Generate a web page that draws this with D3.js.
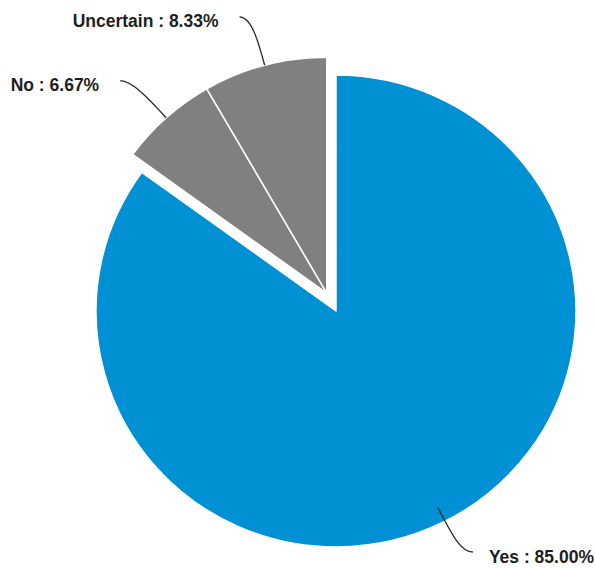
<!DOCTYPE html>
<html>
<head>
<meta charset="utf-8">
<script src="https://cdn.jsdelivr.net/npm/d3@7"></script>
<style>
  html, body { margin: 0; padding: 0; background: #fff; }
  svg { display: block; }
</style>
</head>
<body>
<svg id="chart" width="595" height="568"></svg>
<script>
// Survey answers (percent of respondents)
const categories = ["Yes", "No", "Uncertain"];
const values = [85.00, 6.67, 8.33];
// Slices pulled out of the pie as one group
const sliced = [false, true, true];

const W = 595, H = 568;
const cx = 336, cy = 311;      // pie centre
const r = 236;                 // radius
const sx = 240 / 236;          // slight horizontal stretch of the pie
const pullOut = 20;            // distance the pulled-out group is moved

const color = d3.scaleOrdinal()
  .domain(categories)
  .range(["#0090d4", "#808080", "#808080"]);

const data = categories.map((c, i) => ({ name: c, value: values[i], sliced: sliced[i] }));

const pie = d3.pie().sort(null).value(d => d.value).startAngle(0).endAngle(2 * Math.PI);
const arcs = pie(data);

const arc = d3.arc().innerRadius(0).outerRadius(r);

// the pulled-out group moves along the middle of its combined angle
const out = arcs.filter(a => a.data.sliced);
const groupMid = (d3.min(out, a => a.startAngle) + d3.max(out, a => a.endAngle)) / 2;
const offset = { x: Math.sin(groupMid) * pullOut, y: -Math.cos(groupMid) * pullOut };
const offsetOf = a => a.data.sliced ? offset : { x: 0, y: 0 };

const svg = d3.select("#chart");

const pieG = svg.append("g")
  .attr("transform", `translate(${cx},${cy}) scale(${sx},1)`);

pieG.selectAll("path.slice")
  .data(arcs)
  .join("path")
  .attr("class", "slice")
  .attr("transform", a => `translate(${offsetOf(a).x},${offsetOf(a).y})`)
  .attr("d", arc)
  .attr("fill", a => color(a.data.name))
  .attr("stroke", "#fff")
  .attr("stroke-width", 1.5)
  .attr("stroke-linejoin", "round");

// page position of a point at a given radius along a slice's middle angle
function polar(a, radius) {
  const mid = (a.startAngle + a.endAngle) / 2;
  const o = offsetOf(a);
  return [cx + sx * (Math.sin(mid) * radius + o.x), cy + (-Math.cos(mid) * radius + o.y)];
}

const labelDist = 50, tail = 12, bottomLimit = H - 16;

const labels = arcs.map(a => {
  const mid = (a.startAngle + a.endAngle) / 2;
  const side = Math.sin(mid) < 0 ? -1 : 1;
  const start = polar(a, a.data.sliced ? r : r - 16);
  let bendR = r + labelDist;
  let bend = polar(a, bendR);
  if (bend[1] > bottomLimit) {
    // keep the label inside the frame by pulling it back along the radius
    bendR = (bottomLimit - (cy + offsetOf(a).y)) / (-Math.cos(mid));
    bend = polar(a, bendR);
  }
  const c1 = polar(a, (r + bendR) / 2);
  const end = [bend[0] + side * tail, bend[1]];
  return { a, side, start, c1, bend, end };
});

svg.append("g")
  .selectAll("path.connector")
  .data(labels)
  .join("path")
  .attr("class", "connector")
  .attr("d", l => `M${l.start[0]},${l.start[1]} C${l.c1[0]},${l.c1[1]} ${l.bend[0]},${l.bend[1]} ${l.end[0]},${l.end[1]}`)
  .attr("fill", "none")
  .attr("stroke", "#2a2a2a")
  .attr("stroke-width", 1.3);

svg.append("g")
  .selectAll("text")
  .data(labels)
  .join("text")
  .attr("x", l => l.end[0] + (l.side < 0 ? -21 : 16))
  .attr("y", l => l.end[1] + 10.5)
  .attr("text-anchor", l => l.side < 0 ? "end" : "start")
  .attr("font-family", "'Liberation Sans', Arial, sans-serif")
  .attr("font-weight", "bold")
  .attr("font-size", "17.5px")
  .attr("fill", "#1e1e1e")
  .text(l => `${l.a.data.name} : ${d3.format(".2f")(l.a.data.value)}%`);
</script>
</body>
</html>
